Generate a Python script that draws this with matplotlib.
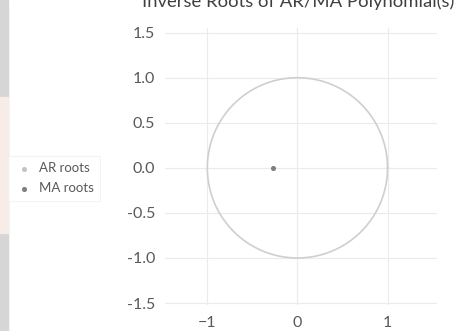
import numpy as np
import matplotlib
matplotlib.use("Agg")
import matplotlib.pyplot as plt
from matplotlib.patches import Rectangle

plt.rcParams['font.family'] = ['Lato', 'DejaVu Sans']

title = "Inverse Roots of AR/MA Polynomial(s)"
ar_re, ar_im = [], []
ma_re, ma_im = [-0.27], [0.0]
xticks = [-1, 0, 1]
yticks = [-1.5, -1.0, -0.5, 0.0, 0.5, 1.0, 1.5]

fig = plt.figure(figsize=(4.7, 3.31), dpi=100)
ax = fig.add_axes([0.351, 0.079, 0.579, 0.836])

# unit circle
t = np.linspace(0, 2 * np.pi, 400)
ax.plot(np.cos(t), np.sin(t), color='#cfcfcf', lw=1.2, zorder=2)

ax.scatter(ar_re, ar_im, s=7, color='#c4c4c4', label='AR roots', zorder=3)
ax.scatter(ma_re, ma_im, s=7, color='#7f7f7f', label='MA roots', zorder=3)

ax.set_xlim(-1.47, 1.55)
ax.set_ylim(-1.52, 1.55)
ax.set_xticks(xticks)
ax.set_yticks(yticks)
ax.set_yticklabels([f"{v:.1f}" for v in yticks])
ax.grid(True, color='#ebebeb', lw=0.8)
ax.set_axisbelow(True)
for s in ax.spines.values():
    s.set_visible(False)
ax.tick_params(length=0, colors='#595959', labelsize=11.5)
ax.tick_params(axis='y', pad=7)
ax.tick_params(axis='x', pad=8)

fig.text(0.634, 1 - 7 / 331, title, ha='center', va='baseline', fontsize=13.3,
         color='#404040')

leg = fig.legend(loc='center left', bbox_to_anchor=(0.004, 0.462),
                 fontsize=9.5, frameon=True, markerscale=1.0,
                 handletextpad=0.4, labelspacing=0.6, borderpad=0.5,
                 handlelength=1.4, fancybox=False)
leg.get_frame().set_edgecolor('#f0f0f0')
leg.get_frame().set_linewidth(0.8)
for txt in leg.get_texts():
    txt.set_color('#595959')

# grey strip along the left edge of the screenshot
fig.patches.append(Rectangle((0, 0), 8 / 470, 1, transform=fig.transFigure,
                             color='#d6d6d6', zorder=0))
fig.patches.append(Rectangle((0, 0.296), 8 / 470, 0.411, transform=fig.transFigure,
                             color='#f7ece6', zorder=0))

fig.savefig("out.png", dpi=100)
